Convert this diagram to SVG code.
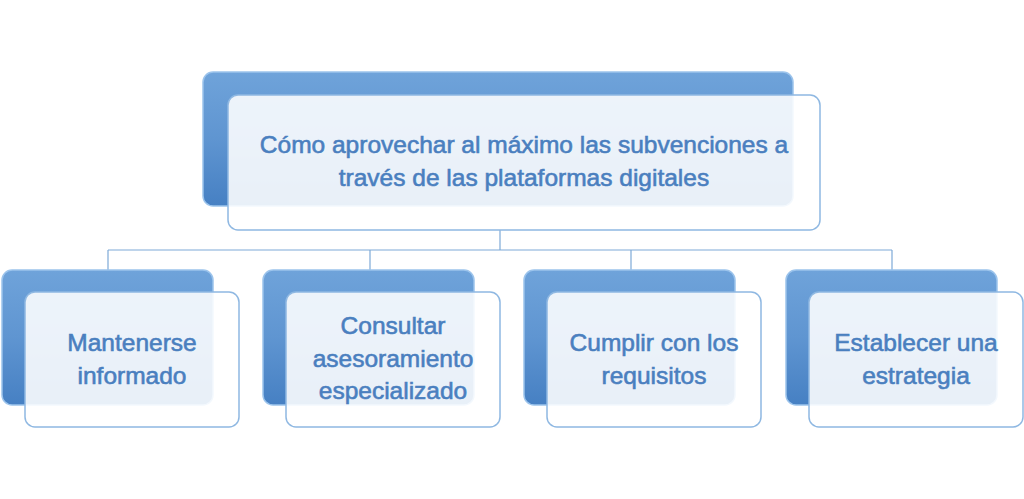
<svg xmlns="http://www.w3.org/2000/svg" width="1024" height="499" viewBox="0 0 1024 499">
<defs>
<linearGradient id="blue" x1="0" y1="0" x2="0" y2="1">
<stop offset="0" stop-color="#6fa3da"/>
<stop offset="0.5" stop-color="#5f95d1"/>
<stop offset="1" stop-color="#4680c3"/>
</linearGradient>
<style>
.back{fill:url(#blue);stroke:#9cc4ec;stroke-width:1.5}
.front{fill:#ffffff;fill-opacity:0.88;stroke:#8fb8e2;stroke-width:1.5}
.lbl{font-family:"Liberation Sans","Open Sans",Arial,sans-serif;font-size:24.5px;fill:#4a7fbf;stroke:#4a7fbf;stroke-width:0.6;text-anchor:middle}
.conn{fill:none;stroke:#7eaad8;stroke-width:1.2}
</style>
</defs>
<rect width="1024" height="499" fill="#ffffff"/>
<g id="connectors">
<path class="conn" d="M500,230 V250 M108,250 H892 M108,250 V270 M370,250 V270 M631,250 V270 M892,250 V270"/>
</g>
<g id="root">
<rect class="back" x="203" y="72" width="590" height="134" rx="10"/>
<rect class="front" x="228" y="95" width="592" height="135" rx="10"/>
<text class="lbl"><tspan x="524" y="153">Cómo aprovechar al máximo las subvenciones a</tspan><tspan x="524" y="186">través de las plataformas digitales</tspan></text>
</g>
<g id="n1">
<rect class="back" x="2" y="270" width="211" height="135" rx="10"/>
<rect class="front" x="25" y="292" width="214" height="135" rx="10"/>
<text class="lbl"><tspan x="132" y="351">Mantenerse</tspan><tspan x="132" y="384">informado</tspan></text>
</g>
<g id="n2">
<rect class="back" x="263" y="270" width="211" height="135" rx="10"/>
<rect class="front" x="286" y="292" width="214" height="135" rx="10"/>
<text class="lbl"><tspan x="393" y="334">Consultar</tspan><tspan x="393" y="367">asesoramiento</tspan><tspan x="393" y="399">especializado</tspan></text>
</g>
<g id="n3">
<rect class="back" x="524" y="270" width="211" height="135" rx="10"/>
<rect class="front" x="547" y="292" width="214" height="135" rx="10"/>
<text class="lbl"><tspan x="654" y="351">Cumplir con los</tspan><tspan x="654" y="384">requisitos</tspan></text>
</g>
<g id="n4">
<rect class="back" x="786" y="270" width="211" height="135" rx="10"/>
<rect class="front" x="809" y="292" width="214" height="135" rx="10"/>
<text class="lbl"><tspan x="916" y="351">Establecer una</tspan><tspan x="916" y="384">estrategia</tspan></text>
</g>
</svg>
